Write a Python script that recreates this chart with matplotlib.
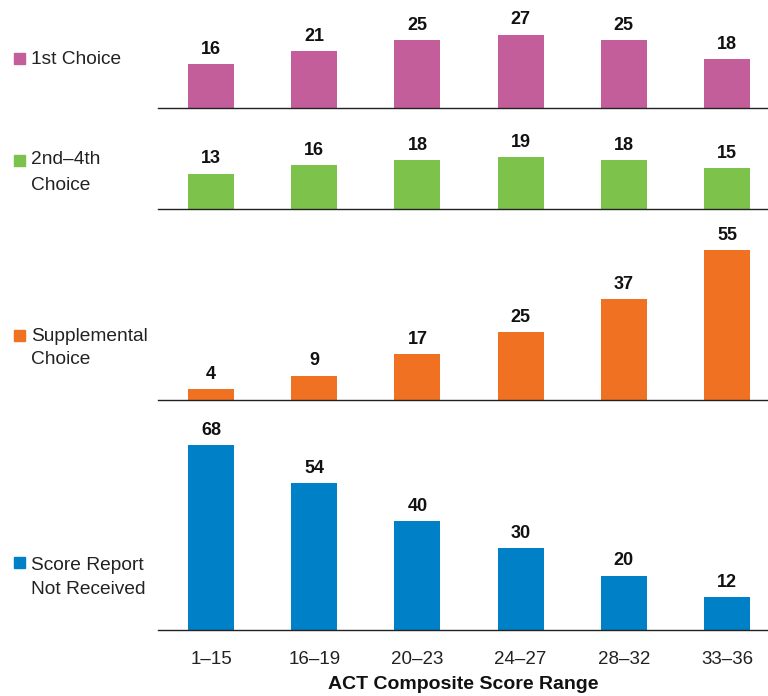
import matplotlib
matplotlib.use("Agg")
import matplotlib.pyplot as plt
from matplotlib.patches import Rectangle

plt.rcParams['font.family'] = ['Liberation Sans', 'DejaVu Sans']

categories = ["1\u201315", "16\u201319", "20\u201323", "24\u201327", "28\u201332", "33\u201336"]
first_choice = [16, 21, 25, 27, 25, 18]
second_fourth = [13, 16, 18, 19, 18, 15]
supplemental = [4, 9, 17, 25, 37, 55]
not_received = [68, 54, 40, 30, 20, 12]

series = [first_choice, second_fourth, supplemental, not_received]
series_labels = ["1st Choice", "2nd\u20134th\nChoice", "Supplemental\nChoice", "Score Report\nNot Received"]
colors = ["#C45E9A", "#7DC24B", "#F07122", "#0080C6"]
xlabel = "ACT Composite Score Range"

W, H = 768, 696
fig = plt.figure(figsize=(W / 100, H / 100), dpi=100)

# panel pixel geometry: (top, baseline)
panels = [(0, 108), (110, 209), (211, 400), (402, 630)]
legend_y = [(58, [60]), (160, [160, 186]), (335, [336, 360]), (562, [566, 589])]
scale = 2.72  # px per unit
x_left, x_right = 158, 768
c0, step = 211, 103.2

for i, (vals, col, (top, base)) in enumerate(zip(series, colors, panels)):
    ax = fig.add_axes([x_left / W, 1 - base / H, (x_right - x_left) / W, (base - top) / H])
    xs = list(range(len(categories)))
    ax.bar(xs, vals, width=0.446, color=col)
    ax.set_xlim((x_left - c0) / step, (x_right - c0) / step)
    ax.set_ylim(0, (base - top) / scale)
    for x, v in zip(xs, vals):
        ax.annotate(str(v), (x, v), xytext=(0, 4.5), textcoords="offset points",
                    ha="center", va="bottom", fontsize=13, fontweight="bold", color="#111111")
    for s in ["top", "right", "left"]:
        ax.spines[s].set_visible(False)
    ax.spines["bottom"].set_linewidth(1.0)
    ax.spines["bottom"].set_color("#222222")
    ax.set_yticks([])
    if i == 3:
        ax.set_xticks(xs)
        ax.set_xticklabels(categories, fontsize=13.5, color="#222222")
        ax.tick_params(axis="x", length=0, pad=15)
        ax.set_xlabel(xlabel, fontsize=14, fontweight="bold", labelpad=6, color="#111111")
    else:
        ax.set_xticks([])

    # legend label
    sq_y, line_ys = legend_y[i]
    fig.patches.append(Rectangle((14 / W, 1 - (sq_y + 5.5) / H), 11 / W, 11 / H,
                                 transform=fig.transFigure, color=col))
    for ln, ly in zip(series_labels[i].split("\n"), line_ys):
        fig.text(31 / W, 1 - ly / H, ln, fontsize=13.8, va="center", ha="left", color="#222222")

fig.savefig("out.png", dpi=100)
